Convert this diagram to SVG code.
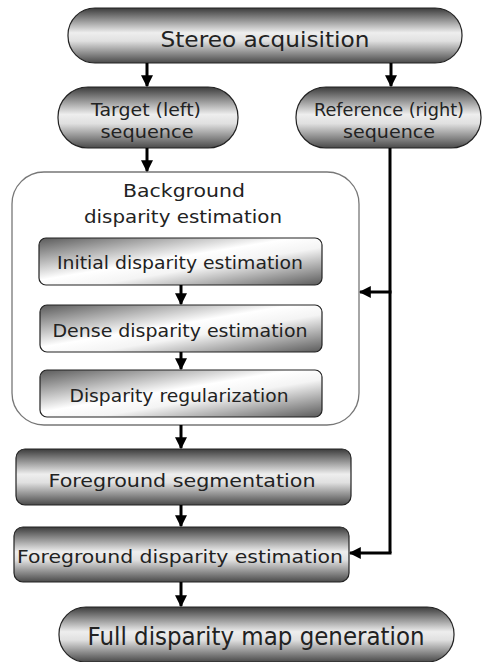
<svg xmlns="http://www.w3.org/2000/svg" width="482" height="662" viewBox="0 0 482 662">
<defs>
<linearGradient id="gv" x1="0" y1="0" x2="0" y2="1">
<stop offset="0" stop-color="#3c3c3c"/>
<stop offset="0.45" stop-color="#eeeeee"/>
<stop offset="0.6" stop-color="#e0e0e0"/>
<stop offset="1" stop-color="#4a4a4a"/>
</linearGradient>
<linearGradient id="gd" x1="0" y1="0" x2="1" y2="1">
<stop offset="0" stop-color="#5a5a5a"/>
<stop offset="0.45" stop-color="#ffffff"/>
<stop offset="0.6" stop-color="#f4f4f4"/>
<stop offset="1" stop-color="#5a5a5a"/>
</linearGradient>
<marker id="ah" viewBox="0 0 10 10" refX="9" refY="5" markerWidth="4" markerHeight="4" orient="auto" markerUnits="strokeWidth">
<path d="M0,0 L10,5 L0,10 Z" fill="#000"/>
</marker>
<style>
.pill{fill:url(#gv);stroke:#222;stroke-width:1.2}
.box{fill:url(#gd);stroke:#222;stroke-width:1.2}
.grp{fill:#fff;stroke:#777;stroke-width:1.3}
text{font-family:"DejaVu Sans","Liberation Sans",sans-serif;fill:#222;text-anchor:middle}
.c{fill:none;stroke:#000;stroke-width:3}
.ca{fill:none;stroke:#000;stroke-width:3;marker-end:url(#ah)}
</style>
</defs>
<g id="n-stereo">
<rect class="pill" x="68" y="8" width="394" height="55" rx="27" ry="27"/>
<text x="265" y="47" font-size="21" textLength="209" lengthAdjust="spacingAndGlyphs">Stereo acquisition</text>
</g>
<g id="n-target">
<rect class="pill" x="58" y="87" width="180" height="61" rx="30" ry="30"/>
<text x="146" y="116" font-size="17" textLength="110" lengthAdjust="spacingAndGlyphs">Target (left)</text>
<text x="147" y="138" font-size="17" textLength="93" lengthAdjust="spacingAndGlyphs">sequence</text>
</g>
<g id="n-reference">
<rect class="pill" x="296" y="87" width="185" height="61" rx="30" ry="30"/>
<text x="389" y="116" font-size="17" textLength="150" lengthAdjust="spacingAndGlyphs">Reference (right)</text>
<text x="389" y="138" font-size="17" textLength="92" lengthAdjust="spacingAndGlyphs">sequence</text>
</g>
<g id="n-background">
<rect class="grp" x="12" y="172" width="347" height="253" rx="32" ry="32"/>
<text x="184" y="197" font-size="18" textLength="122" lengthAdjust="spacingAndGlyphs">Background</text>
<text x="183" y="223" font-size="18" textLength="198" lengthAdjust="spacingAndGlyphs">disparity estimation</text>
</g>
<g id="n-initial">
<rect class="box" x="39" y="238" width="283" height="47" rx="7" ry="7"/>
<text x="180" y="269" font-size="17" textLength="246" lengthAdjust="spacingAndGlyphs">Initial disparity estimation</text>
</g>
<g id="n-dense">
<rect class="box" x="40" y="305" width="282" height="47" rx="7" ry="7"/>
<text x="180" y="337" font-size="17" textLength="255" lengthAdjust="spacingAndGlyphs">Dense disparity estimation</text>
</g>
<g id="n-regularization">
<rect class="box" x="40" y="370" width="282" height="47" rx="7" ry="7"/>
<text x="179" y="402" font-size="17" textLength="219" lengthAdjust="spacingAndGlyphs">Disparity regularization</text>
</g>
<g id="n-fgseg">
<rect class="pill" x="16" y="449" width="335" height="56" rx="9" ry="9"/>
<text x="182" y="487" font-size="18" textLength="267" lengthAdjust="spacingAndGlyphs">Foreground segmentation</text>
</g>
<g id="n-fgdisp">
<rect class="pill" x="14" y="527" width="335" height="55" rx="9" ry="9"/>
<text x="180" y="563" font-size="18" textLength="326" lengthAdjust="spacingAndGlyphs">Foreground disparity estimation</text>
</g>
<g id="n-full">
<rect class="pill" x="59" y="607" width="395" height="55" rx="27" ry="27"/>
<text x="256" y="645" font-size="25" textLength="337" lengthAdjust="spacingAndGlyphs">Full disparity map generation</text>
</g>
<g id="connectors">
<path class="ca" d="M147,63 V86"/>
<path class="ca" d="M391,63 V86"/>
<path class="ca" d="M147,148 V171"/>
<path class="ca" d="M181,285 V304"/>
<path class="ca" d="M181,352 V369"/>
<path class="ca" d="M181,425 V448"/>
<path class="ca" d="M181,505 V526"/>
<path class="ca" d="M181,582 V606"/>
<path class="c" d="M390,148 V553"/>
<path class="ca" d="M391.5,292 H360"/>
<path class="ca" d="M391.5,553 H350"/>
</g>
</svg>
